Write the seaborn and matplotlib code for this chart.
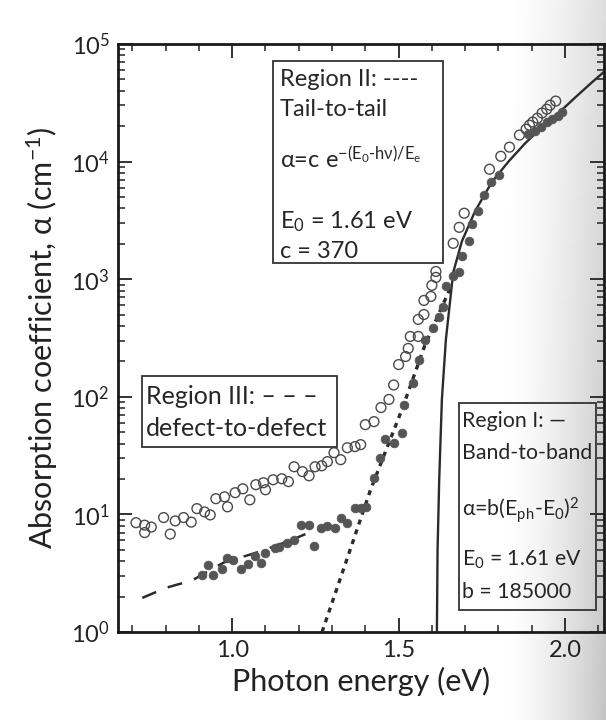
import numpy as np
import pandas as pd
import matplotlib
matplotlib.use("Agg")
import matplotlib.pyplot as plt
import seaborn as sns
from matplotlib.ticker import MultipleLocator, LogLocator, NullFormatter
from matplotlib.patches import Rectangle

# ---------------- data ----------------
open_E = [0.711, 0.737, 0.737, 0.757, 0.794, 0.814, 0.829, 0.854, 0.877, 0.894,
          0.917, 0.934, 0.951, 0.977, 0.986, 1.009, 1.032, 1.053, 1.071, 1.094,
          1.100, 1.123, 1.149, 1.169, 1.186, 1.211, 1.231, 1.249, 1.269, 1.286,
          1.306, 1.326, 1.346, 1.369, 1.386, 1.400, 1.426, 1.447, 1.471, 1.485,
          1.500, 1.521, 1.529, 1.535, 1.559, 1.559, 1.576, 1.576, 1.597, 1.600,
          1.612, 1.612, 1.664, 1.682, 1.697, 1.773, 1.807, 1.833, 1.863, 1.883,
          1.893, 1.903, 1.917, 1.931, 1.945, 1.955, 1.972]
open_alpha = [8.5, 8.1, 7.0, 7.8, 9.4, 6.8, 8.8, 9.4, 8.6, 11.2,
              10.5, 9.9, 13.6, 14.1, 11.6, 15.3, 16.5, 13.3, 17.9, 18.6,
              16.2, 19.7, 20.1, 19.0, 25.4, 23.1, 21.3, 25.4, 25.9, 28.1,
              33.5, 29.2, 36.9, 37.7, 39.2, 58, 61.5, 81, 95, 126,
              188, 220, 258, 326, 326, 455, 501, 660, 713, 886,
              1036, 1164, 2018, 2760, 3640, 8610, 11100, 13270, 16800, 18870,
              20400, 21700, 23400, 25900, 27900, 30200, 32700]

filled_E = [0.909, 0.926, 0.943, 0.969, 0.983, 1.003, 1.026, 1.047, 1.068, 1.088,
            1.100, 1.129, 1.140, 1.166, 1.186, 1.206, 1.231, 1.246, 1.266, 1.286,
            1.309, 1.326, 1.346, 1.369, 1.386, 1.403, 1.426, 1.444, 1.459, 1.485,
            1.509, 1.515, 1.544, 1.562, 1.579, 1.603, 1.621, 1.633, 1.642, 1.664,
            1.682, 1.691, 1.712, 1.721, 1.739, 1.758, 1.779, 1.803, 1.890, 1.910,
            1.928, 1.945, 1.962, 1.979, 1.990]
filled_alpha = [3.06, 3.7, 3.06, 3.44, 4.27, 4.1, 3.44, 3.8, 4.4, 3.87,
                4.7, 5.2, 5.3, 5.7, 6.1, 8.15, 8.15, 5.4, 7.7, 8.0,
                7.7, 9.4, 8.5, 11.4, 11.4, 11.6, 20.5, 30.3, 44, 40.7,
                49.5, 86, 130, 207, 307, 388, 473, 575, 868, 1057,
                1142, 1564, 2100, 2930, 3780, 5170, 6680, 7660, 17100, 18200,
                19600, 21700, 23000, 24400, 26300]

# Region I (band-to-band) solid curve
band_E = [1.615, 1.617, 1.622, 1.630, 1.642, 1.664, 1.690, 1.730, 1.780, 1.830,
          1.880, 1.930, 1.980, 2.030, 2.080, 2.117]
band_alpha = [1.0, 5, 20, 95, 307, 1140, 2100, 3800, 6700, 10000,
              14300, 19500, 25800, 35000, 47000, 58000]

# Region II (tail-to-tail) dotted line
tail_E = [1.27, 1.35, 1.415, 1.51, 1.58, 1.66]
tail_alpha = [1.0, 4.6, 16, 78, 280, 900]

# Region III (defect-to-defect) dashed line
defect_E = [0.73, 0.80, 0.88, 0.975, 1.07, 1.175, 1.22]
defect_alpha = [1.95, 2.37, 2.75, 3.9, 4.7, 6.0, 6.8]

x_ticks = [1.0, 1.5, 2.0]
x_ticklabels = ["1.0", "1.5", "2.0"]

# ---------------- style ----------------
sns.set_theme(style="ticks")
FONT = "Lato"
plt.rcParams["font.family"] = [FONT, "DejaVu Sans"]
plt.rcParams["mathtext.fontset"] = "custom"
plt.rcParams["mathtext.rm"] = FONT
plt.rcParams["mathtext.it"] = FONT
plt.rcParams["mathtext.bf"] = FONT
plt.rcParams["mathtext.sf"] = FONT
plt.rcParams["mathtext.default"] = "regular"

fig = plt.figure(figsize=(6.06, 7.2), dpi=100)
fig.patch.set_facecolor("white")
W, H = 606, 720
L, R, B, T = 118, 604, 632, 44

# scanned-page shading towards the right edge
bg = fig.add_axes([0, 0, 1, 1], zorder=-10)
xx = np.linspace(0, 1, 303)
yy = np.linspace(0, 1, 360)
X, Y = np.meshgrid(xx, yy)
shade = np.clip((X - 0.83) / 0.17, 0, 1) ** 1.5 * (0.13 + 0.10 * Y)
bg.imshow(1 - shade, cmap="gray", vmin=0, vmax=1, aspect="auto",
          extent=[0, 1, 0, 1], origin="upper", interpolation="bilinear")
bg.set_axis_off()

ax = fig.add_axes([L / W, 1 - B / H, (R - L) / W, (B - T) / H])
ax.set_facecolor("none")

df_open = pd.DataFrame({"E": open_E, "a": open_alpha})
df_fill = pd.DataFrame({"E": filled_E, "a": filled_alpha})
df_band = pd.DataFrame({"E": band_E, "a": band_alpha})
df_tail = pd.DataFrame({"E": tail_E, "a": tail_alpha})
df_def = pd.DataFrame({"E": defect_E, "a": defect_alpha})

line_col = "#2b2b2b"
sns.lineplot(data=df_band, x="E", y="a", ax=ax, color=line_col, lw=1.7,
             sort=False, estimator=None, zorder=3)
sns.lineplot(data=df_tail, x="E", y="a", ax=ax, color=line_col, lw=2.4,
             sort=False, estimator=None, zorder=3, linestyle=(0, (1.5, 1.6)))
sns.lineplot(data=df_def, x="E", y="a", ax=ax, color=line_col, lw=1.8,
             sort=False, estimator=None, zorder=3, linestyle=(0, (6, 5)))

sns.scatterplot(data=df_open, x="E", y="a", ax=ax, marker="o", s=50,
                facecolor="none", edgecolor="#4a4a4a", linewidth=1.0, zorder=4)
sns.scatterplot(data=df_fill, x="E", y="a", ax=ax, marker="o", s=40,
                color="#555555", edgecolor="#555555", linewidth=0.5, zorder=5)

ax.set_yscale("log")
ax.set_xlim(0.657, 2.117)
ax.set_ylim(1, 1e5)
ax.xaxis.set_minor_locator(MultipleLocator(0.1))
ax.set_xticks(x_ticks)
ax.set_xticklabels(x_ticklabels)
ax.yaxis.set_major_locator(LogLocator(base=10, numticks=10))
ax.yaxis.set_minor_locator(LogLocator(base=10, subs=np.arange(2, 10), numticks=20))
ax.yaxis.set_minor_formatter(NullFormatter())

ax.tick_params(axis="both", which="major", direction="in", length=10, width=1.3,
               colors="#222222", labelsize=17, top=True, right=True, pad=6)
ax.tick_params(axis="both", which="minor", direction="in", length=5, width=1.1,
               colors="#222222", top=True, right=True)
for sp in ax.spines.values():
    sp.set_linewidth(2.0)
    sp.set_color("#1a1a1a")

ax.set_xlabel("Photon energy (eV)", fontsize=22, color="#222222", labelpad=4)
ax.set_ylabel("Absorption coefficient, α (cm$^{-1}$)", fontsize=22,
              color="#222222", labelpad=8)

# ---------------- annotation boxes ----------------
def axx(px):
    return (px - L) / (R - L)

def axy(py):
    return (B - py) / (B - T)

def box(x0, y0, x1, y1):
    ax.add_patch(Rectangle((axx(x0), axy(y1)), axx(x1) - axx(x0), axy(y0) - axy(y1),
                           transform=ax.transAxes, fill=False, lw=1.3,
                           edgecolor="#333333", zorder=6))

tcol = "#262626"

box(273, 61, 443, 263)
for txt, py in [("Region II: ----", 79), ("Tail-to-tail", 110),
                (r"α=c e$^{-(E_0\text{-}h\nu)/E_e}$", 160),
                ("E$_0$ = 1.61 eV", 222), ("c = 370", 251)]:
    ax.text(axx(280), axy(py), txt, transform=ax.transAxes, fontsize=17,
            color=tcol, va="center", ha="left", zorder=7)

box(142, 376, 337, 447)
for txt, py in [("Region III: – – –", 396), ("defect-to-defect", 428)]:
    ax.text(axx(146), axy(py), txt, transform=ax.transAxes, fontsize=18,
            color=tcol, va="center", ha="left", zorder=7)

box(459, 403, 596, 610)
for txt, py in [("Region I: —", 421), ("Band-to-band", 453),
                (r"α=b(E$_{ph}$-E$_0$)$^2$", 510),
                ("E$_0$ = 1.61 eV", 560), ("b = 185000", 592)]:
    ax.text(axx(462), axy(py), txt, transform=ax.transAxes, fontsize=15.3,
            color=tcol, va="center", ha="left", zorder=7)

fig.savefig("out.png", dpi=100)
